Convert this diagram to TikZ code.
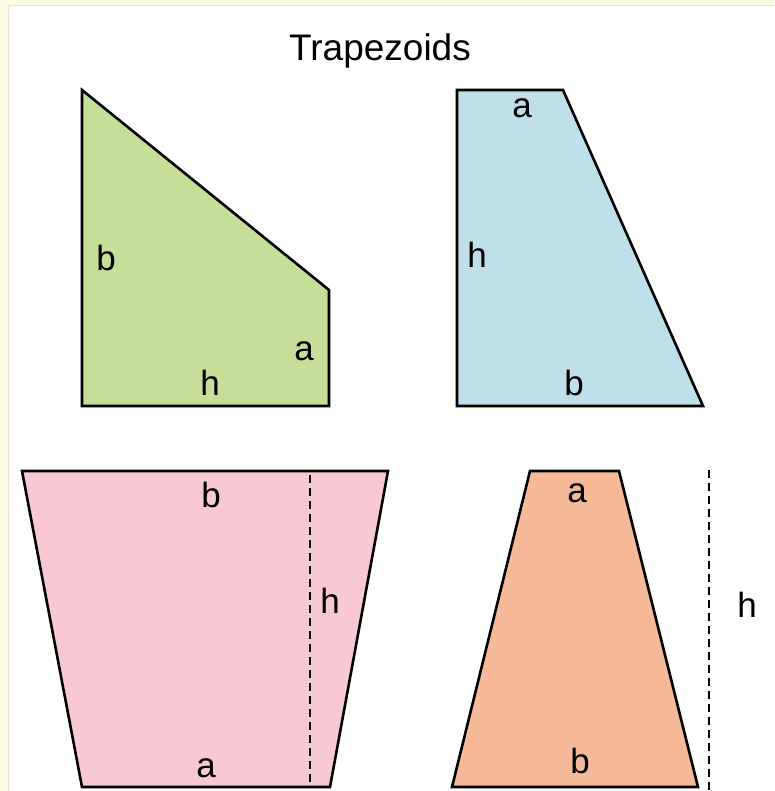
\documentclass[tikz,border=0pt]{standalone}
\usepackage{fontspec}
\setmainfont{Liberation Sans}
\definecolor{slidebg}{HTML}{FCFCE2}
\definecolor{panelrim}{HTML}{EFE4D6}
\definecolor{greenfill}{HTML}{C6DF98}
\definecolor{bluefill}{HTML}{BFE0EA}
\definecolor{pinkfill}{HTML}{F8C8D3}
\definecolor{orangefill}{HTML}{F6BA98}
\begin{document}
\begin{tikzpicture}[x=1pt,y=-1pt,
trap/.style={draw=black,line width=2.6pt,line join=miter},
lbl/.style={anchor=base,inner sep=0pt,font=\fontsize{35}{40}\selectfont},
hline/.style={line width=1.8pt,dash pattern=on 8pt off 5pt}]
\useasboundingbox (0,0) rectangle (774,791);
\fill[slidebg] (0,0) rectangle (774,791);
\filldraw[fill=white,draw=panelrim,line width=1pt] (8,6) rectangle (780,800);
\node[lbl,font=\fontsize{37}{42}\selectfont] (title) at (380,61) {Trapezoids};
% top left: right angled, parallel sides upright
\filldraw[trap,fill=greenfill] (82,90) -- (82,406) -- (329,406) -- (329,290) -- cycle;
\node[lbl] (gb) at (106,270) {b};
\node[lbl] (ga) at (304,360) {a};
\node[lbl] (gh) at (210,395) {h};
% top right: right angled
\filldraw[trap,fill=bluefill] (457,90) -- (563,90) -- (703,406) -- (457,406) -- cycle;
\node[lbl] (ba) at (522,118) {a};
\node[lbl] (bh) at (477,267) {h};
\node[lbl] (bb) at (574,395) {b};
% bottom left: long side on top
\filldraw[trap,fill=pinkfill] (22,471) -- (388,471) -- (330,787) -- (82,787) -- cycle;
\draw[hline] (310,475) -- (310,784);
\node[lbl] (pb) at (211,507) {b};
\node[lbl] (ph) at (330,613) {h};
\node[lbl] (pa) at (206,777) {a};
% bottom right: long side at the foot
\filldraw[trap,fill=orangefill] (530,471) -- (619,471) -- (698,787) -- (452,787) -- cycle;
\draw[hline] (709,470) -- (709,795);
\node[lbl] (oa) at (577,502) {a};
\node[lbl] (ob) at (580,773) {b};
\node[lbl] (oh) at (747,617) {h};
\end{tikzpicture}
\end{document}
